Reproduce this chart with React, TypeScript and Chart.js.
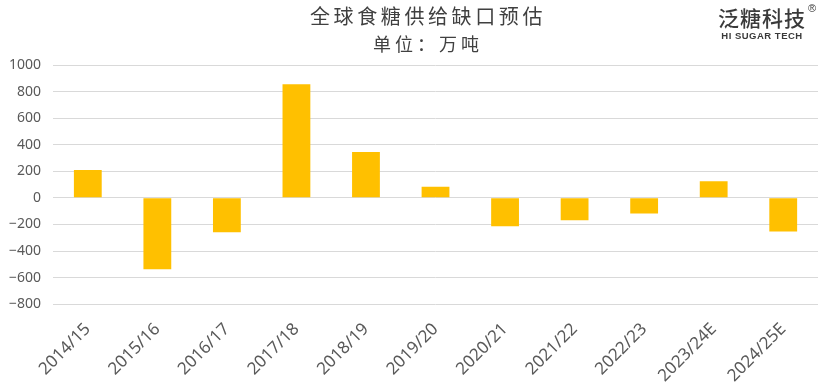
import React, { useEffect, useRef } from "react";
import { Chart, registerables } from "chart.js";

Chart.register(...registerables);

const categories = [
  "2014/15", "2015/16", "2016/17", "2017/18", "2018/19", "2019/20",
  "2020/21", "2021/22", "2022/23", "2023/24E", "2024/25E",
];
const gapValues = [210, -538, -258, 855, 346, 84, -213, -168, -117, 125, -253];
const yMin = -800;
const yMax = 1000;
const yStep = 200;
const titleText = "全球食糖供给缺口预估";
const subtitleText = "单位：万吨";

export default function App() {
  const ref = useRef<HTMLCanvasElement | null>(null);

  useEffect(() => {
    const prev = document.body.style.margin;
    document.body.style.margin = "0";
    const ctx = ref.current!;
    const chart = new Chart(ctx, {
      type: "bar",
      data: {
        labels: categories,
        datasets: [
          {
            data: gapValues,
            backgroundColor: "#FFC000",
            borderWidth: 0,
            categoryPercentage: 1,
            barPercentage: 0.4,
          },
        ],
      },
      options: {
        animation: false,
        responsive: false,
        maintainAspectRatio: false,
        layout: { padding: { top: 65, right: 12, left: -3, bottom: -1 } },
        plugins: {
          legend: { display: false },
          tooltip: { enabled: false },
          title: { display: false },
        },
        scales: {
          x: {
            grid: { display: false },
            border: { display: false },
            ticks: {
              color: "#595959",
              font: { family: "'Noto Sans'", size: 17 },
              minRotation: 45,
              maxRotation: 45,
              padding: 7,
            },
          },
          y: {
            min: yMin,
            max: yMax,
            grid: { color: "#d9d9d9", lineWidth: 1, drawTicks: false },
            border: { display: false },
            ticks: {
              stepSize: yStep,
              color: "#595959",
              font: { family: "'Noto Sans'", size: 14 },
              padding: 12,
              callback: (v: any) => String(v).replace("-", "\u2212"),
            },
          },
        },
      },
    });
    return () => {
      chart.destroy();
      document.body.style.margin = prev;
    };
  }, []);

  return (
    <div style={{ position: "relative", width: 830, height: 392, background: "#fff" }}>
      <canvas ref={ref} width={830} height={392} style={{ position: "absolute", left: 0, top: 0 }} />
      <div
        style={{
          position: "absolute",
          left: 228,
          top: 3,
          width: 400,
          textAlign: "center",
          color: "#404040",
          fontFamily: "'Noto Sans CJK SC'",
        }}
      >
        <div style={{ fontSize: 20, letterSpacing: 3.6, lineHeight: "26px" }}>{titleText}</div>
        <div style={{ fontSize: 18, letterSpacing: 4, lineHeight: "26px", marginTop: 1 }}>{subtitleText}</div>
      </div>
      <div
        style={{
          position: "absolute",
          left: 714,
          top: 4,
          width: 96,
          textAlign: "center",
          color: "#3a3a3a",
          fontFamily: "'Noto Sans CJK SC'",
        }}
      >
        <div style={{ fontSize: 21, fontWeight: 500, letterSpacing: 1, lineHeight: "26px" }}>泛糖科技</div>
        <div style={{ fontSize: 9.5, fontWeight: 700, fontFamily: "'Liberation Sans'", lineHeight: "12px", letterSpacing: 0.5 }}>
          HI SUGAR TECH
        </div>
      </div>
      <div
        style={{
          position: "absolute",
          left: 808,
          top: 2,
          fontSize: 11,
          color: "#3a3a3a",
          fontFamily: "'Liberation Sans'",
        }}
      >
        ®
      </div>
    </div>
  );
}
